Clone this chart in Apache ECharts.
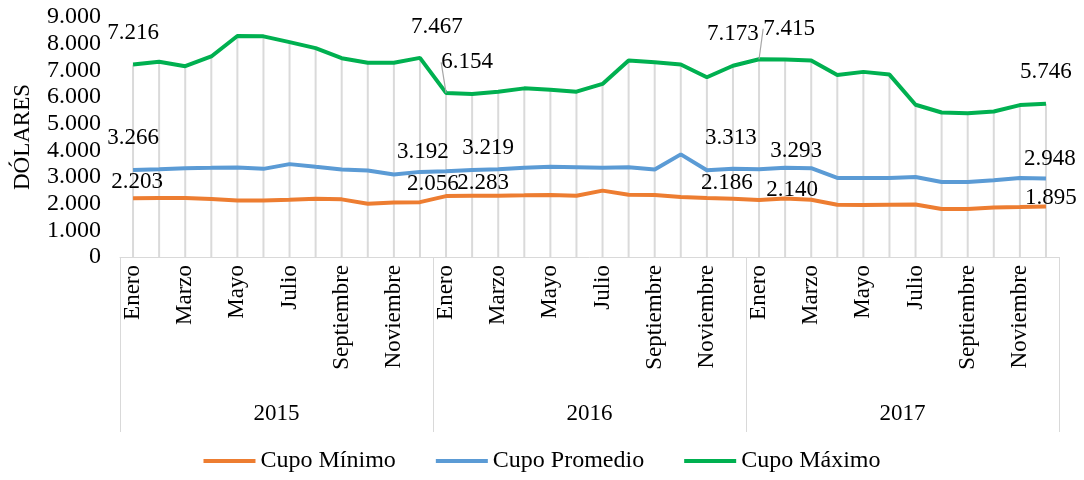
<!DOCTYPE html>
<html>
<head>
<meta charset="utf-8">
<script src="https://cdn.jsdelivr.net/npm/echarts@6/dist/echarts.min.js"></script>
<style>
  html, body { margin: 0; padding: 0; background: #fff; }
  #main { width: 1084px; height: 480px; }
</style>
</head>
<body>
<div id="main"></div>
<script>
var months = ['Enero', 'Febrero', 'Marzo', 'Abril', 'Mayo', 'Junio', 'Julio', 'Agosto', 'Septiembre', 'Octubre', 'Noviembre', 'Diciembre'];
var years = ['2015', '2016', '2017'];

// valores mensuales 2015-2017
var cupoMinimo = [
  2203, 2213, 2213, 2176, 2123, 2123, 2149, 2187, 2161, 1998, 2047, 2056,
  2283, 2300, 2300, 2311, 2326, 2300, 2489, 2338, 2326, 2251, 2213, 2186,
  2140, 2198, 2149, 1961, 1949, 1961, 1972, 1798, 1798, 1859, 1874, 1895
];
var cupoPromedio = [
  3266, 3294, 3332, 3343, 3358, 3305, 3483, 3381, 3283, 3245, 3094, 3192,
  3219, 3267, 3294, 3343, 3381, 3369, 3343, 3369, 3283, 3848, 3256, 3313,
  3293, 3343, 3332, 2966, 2966, 2966, 3003, 2815, 2815, 2879, 2966, 2948
];
var cupoMaximo = [
  7216, 7320, 7154, 7519, 8286, 8275, 8059, 7833, 7456, 7282, 7282, 7467,
  6154, 6112, 6199, 6324, 6274, 6199, 6490, 7369, 7305, 7218, 6739, 7173,
  7415, 7406, 7369, 6829, 6942, 6840, 5709, 5418, 5395, 5456, 5697, 5746
];

var categories = [];
years.forEach(function () { months.forEach(function (m) { categories.push(m); }); });

var labelIdx = [0, 11, 12, 23, 24, 35];
// desplazamiento de etiquetas [dx, dy] por serie (1 min, 2 prom, 3 max)
var labelShift = {
  1: [[4, 0], [13, -2], [37, 3], [-6, 1], [33, 7], [5, 8]],
  2: [[0, -15], [3, -3], [42, -7], [-2, -14], [37, -2], [4, -3]],
  3: [[0, -15], [17, -14], [21, -14], [0, -15], [30, -14], [0, -15]]
};
var leaderIdx = [12, 24];

var FONT = "'Liberation Serif', 'Times New Roman', serif";

function fmt(v) {
  return String(v).replace(/\B(?=(\d{3})+(?!\d))/g, '.');
}

function buildData(values, withLeader) {
  return values.map(function (v, i) {
    if (labelIdx.indexOf(i) < 0) return v;
    var item = { value: v, label: { show: true } };
    if (withLeader && leaderIdx.indexOf(i) >= 0) {
      item.labelLine = { show: true, lineStyle: { color: '#a6a6a6', width: 1.2 } };
    }
    return item;
  });
}

function lineSeries(name, values, color, withLeader) {
  return {
    name: name,
    type: 'line',
    data: buildData(values, withLeader),
    xAxisIndex: 0,
    symbol: 'circle',
    symbolSize: 0,
    showSymbol: true,
    showAllSymbol: true,
    lineStyle: { color: color, width: 4 },
    itemStyle: { color: color },
    label: {
      show: false,
      position: 'top',
      fontFamily: FONT,
      fontSize: 23,
      color: '#000',
      formatter: function (p) { return fmt(p.value); }
    },
    labelLine: { show: false },
    emphasis: { disabled: true },
    z: 3
  };
}

var myChart = echarts.init(document.getElementById('main'));
var option = {
  animation: false,
  grid: { left: 120, right: 25, top: 17, bottom: 223, outerBoundsMode: 'none' },
  legend: {
    bottom: 2,
    icon: 'rect',
    itemWidth: 52,
    itemHeight: 4,
    itemGap: 40,
    data: ['Cupo Mínimo', 'Cupo Promedio', 'Cupo Máximo'],
    textStyle: { fontFamily: FONT, fontSize: 24, color: '#000' }
  },
  xAxis: [{
    type: 'category',
    data: categories,
    boundaryGap: true,
    axisLine: { lineStyle: { color: '#d9d9d9', width: 1 } },
    axisTick: { show: false },
    axisLabel: {
      interval: 1,
      rotate: 90,
      margin: 8,
      fontFamily: FONT,
      fontSize: 23,
      color: '#000'
    }
  }, {
    type: 'category',
    data: years,
    position: 'bottom',
    boundaryGap: true,
    axisLine: { show: false },
    axisTick: { show: true, interval: 0, length: 175, lineStyle: { color: '#d9d9d9', width: 1 } },
    axisLabel: { margin: 145, fontFamily: FONT, fontSize: 23, color: '#000' }
  }],
  yAxis: {
    type: 'value',
    min: 0,
    max: 9000,
    interval: 1000,
    name: 'DÓLARES',
    nameLocation: 'middle',
    nameRotate: 90,
    nameGap: 86,
    nameTextStyle: { fontFamily: FONT, fontSize: 23, color: '#000' },
    axisLine: { show: false },
    axisTick: { show: false },
    splitLine: { show: false },
    axisLabel: {
      margin: 19,
      fontFamily: FONT,
      fontSize: 24,
      color: '#000',
      formatter: fmt
    }
  },
  labelLayout: function (p) {
    var s = labelShift[p.seriesIndex];
    if (!s) return {};
    var k = labelIdx.indexOf(p.dataIndex);
    if (k < 0) return {};
    return { dx: s[k][0], dy: s[k][1] };
  },
  series: [
    {
      name: 'lineas',
      type: 'bar',
      data: cupoMaximo,
      barWidth: 2,
      itemStyle: { color: '#dadada' },
      silent: true,
      emphasis: { disabled: true },
      z: 1
    },
    lineSeries('Cupo Mínimo', cupoMinimo, '#ED7D31', false),
    lineSeries('Cupo Promedio', cupoPromedio, '#5B9BD5', false),
    lineSeries('Cupo Máximo', cupoMaximo, '#00B050', true)
  ]
};
myChart.setOption(option);
</script>
</body>
</html>
